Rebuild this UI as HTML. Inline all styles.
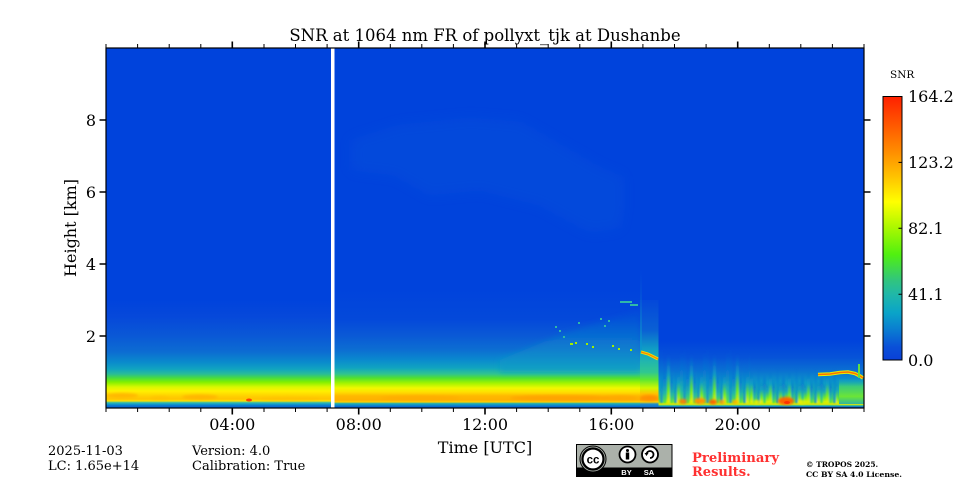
<!DOCTYPE html>
<html><head><meta charset="utf-8"><style>
html,body{margin:0;padding:0;background:#fff;}
svg{display:block;}
text{font-family:"DejaVu Serif","Liberation Serif",serif;fill:#000;}
</style></head><body>
<svg width="960" height="480" viewBox="0 0 960 480" xmlns="http://www.w3.org/2000/svg">
<defs>
<linearGradient id="cb" x1="0" y1="1" x2="0" y2="0">
<stop offset="0" stop-color="#0a40d8"/><stop offset="0.05" stop-color="#0a50d8"/><stop offset="0.12" stop-color="#0a80d0"/><stop offset="0.18" stop-color="#0aa4c8"/><stop offset="0.25" stop-color="#20b8a8"/><stop offset="0.3" stop-color="#30c480"/><stop offset="0.4" stop-color="#50f010"/><stop offset="0.5" stop-color="#a8f800"/><stop offset="0.6" stop-color="#ffff00"/><stop offset="0.7" stop-color="#ffc000"/><stop offset="0.8" stop-color="#ff8800"/><stop offset="0.9" stop-color="#ff5400"/><stop offset="1" stop-color="#ff2000"/>
</linearGradient>
<linearGradient id="gL" gradientUnits="userSpaceOnUse" x1="0" y1="300" x2="0" y2="408">
<stop offset="0" stop-color="#0043dc"/><stop offset="0.15" stop-color="#0648da"/><stop offset="0.33" stop-color="#0a58d6"/><stop offset="0.48" stop-color="#0c6cd2"/><stop offset="0.58" stop-color="#0a8ccc"/><stop offset="0.64" stop-color="#10a4c0"/><stop offset="0.685" stop-color="#28bc98"/><stop offset="0.722" stop-color="#48dc40"/><stop offset="0.76" stop-color="#80f000"/><stop offset="0.805" stop-color="#d8f800"/><stop offset="0.843" stop-color="#fff000"/><stop offset="0.89" stop-color="#ffd000"/><stop offset="0.917" stop-color="#ffc400"/><stop offset="0.935" stop-color="#ffe000"/><stop offset="0.949" stop-color="#40c0a0"/><stop offset="0.963" stop-color="#10a0c8"/><stop offset="0.981" stop-color="#0a70d0"/><stop offset="1" stop-color="#0a60d4"/>
</linearGradient>
<linearGradient id="gM" gradientUnits="userSpaceOnUse" x1="0" y1="290" x2="0" y2="408">
<stop offset="0" stop-color="#0043dc"/><stop offset="0.254" stop-color="#0449da"/><stop offset="0.381" stop-color="#0a58d6"/><stop offset="0.508" stop-color="#0c6ed2"/><stop offset="0.593" stop-color="#0a8ace"/><stop offset="0.661" stop-color="#10a4c0"/><stop offset="0.712" stop-color="#30c490"/><stop offset="0.746" stop-color="#50e030"/><stop offset="0.788" stop-color="#a0f400"/><stop offset="0.831" stop-color="#f0f800"/><stop offset="0.864" stop-color="#ffe000"/><stop offset="0.898" stop-color="#ffb800"/><stop offset="0.932" stop-color="#ffb000"/><stop offset="0.949" stop-color="#ffd000"/><stop offset="0.962" stop-color="#20b0b0"/><stop offset="0.975" stop-color="#1090c8"/><stop offset="0.987" stop-color="#0a6ad2"/><stop offset="1" stop-color="#0a60d4"/>
</linearGradient>
<linearGradient id="gC" gradientUnits="userSpaceOnUse" x1="0" y1="300" x2="0" y2="408">
<stop offset="0" stop-color="#0448da"/><stop offset="0.28" stop-color="#0a60d4"/><stop offset="0.46" stop-color="#10a0c4"/><stop offset="0.56" stop-color="#20b4b0"/><stop offset="0.67" stop-color="#30c890"/><stop offset="0.74" stop-color="#60e830"/><stop offset="0.815" stop-color="#d0f800"/><stop offset="0.87" stop-color="#ffc000"/><stop offset="0.925" stop-color="#ffa000"/><stop offset="0.944" stop-color="#ffd000"/><stop offset="0.963" stop-color="#2090c8"/><stop offset="1" stop-color="#0a60d4"/>
</linearGradient>
<linearGradient id="gR" gradientUnits="userSpaceOnUse" x1="0" y1="340" x2="0" y2="408">
<stop offset="0" stop-color="#0043dc"/><stop offset="0.25" stop-color="#0652d8"/><stop offset="0.45" stop-color="#0a70d2"/><stop offset="0.62" stop-color="#0c98c8"/><stop offset="0.76" stop-color="#20b4a8"/><stop offset="0.86" stop-color="#50d850"/><stop offset="0.915" stop-color="#a8f000"/><stop offset="0.945" stop-color="#e8e800"/><stop offset="0.965" stop-color="#30c090"/><stop offset="0.985" stop-color="#0a60d4"/><stop offset="1" stop-color="#0a50d8"/>
</linearGradient>
<linearGradient id="s1" x1="0" y1="0" x2="0" y2="1">
<stop offset="0" stop-color="#0a60d6" stop-opacity="0"/><stop offset="0.4" stop-color="#0a78d2" stop-opacity="0.7"/><stop offset="0.75" stop-color="#20b8a8" stop-opacity="0.9"/><stop offset="1" stop-color="#60e830"/>
</linearGradient>
<linearGradient id="s2" x1="0" y1="0" x2="0" y2="1">
<stop offset="0" stop-color="#0a60d6" stop-opacity="0"/><stop offset="0.4" stop-color="#10a0c4" stop-opacity="0.8"/><stop offset="0.75" stop-color="#70ec20"/><stop offset="1" stop-color="#f0f000"/>
</linearGradient>
<linearGradient id="s3" x1="0" y1="0" x2="0" y2="1">
<stop offset="0" stop-color="#0a60d6" stop-opacity="0"/><stop offset="1" stop-color="#0a98cc" stop-opacity="0.85"/>
</linearGradient>
<linearGradient id="up" gradientUnits="userSpaceOnUse" x1="0" y1="300" x2="0" y2="372">
<stop offset="0" stop-color="#0a5ad6" stop-opacity="0"/><stop offset="0.5" stop-color="#0a78d0" stop-opacity="0.6"/><stop offset="1" stop-color="#10a0c4" stop-opacity="0.8"/>
</linearGradient>
<linearGradient id="gp" x1="0" y1="0" x2="0" y2="1">
<stop offset="0" stop-color="#10a0c4" stop-opacity="0.3"/><stop offset="0.3" stop-color="#40d070"/><stop offset="0.7" stop-color="#70e830"/><stop offset="1" stop-color="#20b0b0"/>
</linearGradient>
<pattern id="pA" patternUnits="userSpaceOnUse" x="660" y="345" width="23" height="58">
<rect x="0" y="4" width="3" height="54" fill="url(#s3)"/>
<rect x="3" y="20" width="3" height="38" fill="url(#s1)"/>
<rect x="7" y="9" width="3" height="49" fill="url(#s2)"/>
<rect x="10" y="27" width="3" height="31" fill="url(#s1)"/>
<rect x="14" y="14" width="3" height="44" fill="url(#s3)"/>
<rect x="17" y="24" width="3" height="34" fill="url(#s2)"/>
<rect x="20" y="7" width="3" height="51" fill="url(#s1)"/>
</pattern>
<pattern id="pB" patternUnits="userSpaceOnUse" x="750" y="365" width="19" height="38">
<rect x="0" y="6" width="3" height="32" fill="url(#s2)"/>
<rect x="3" y="14" width="3" height="24" fill="url(#s1)"/>
<rect x="7" y="2" width="3" height="36" fill="url(#s3)"/>
<rect x="10" y="16" width="3" height="22" fill="url(#s2)"/>
<rect x="13" y="9" width="3" height="29" fill="url(#s1)"/>
<rect x="16" y="18" width="3" height="20" fill="url(#s2)"/>
</pattern>
<pattern id="pF" patternUnits="userSpaceOnUse" x="350" y="0" width="11" height="480">
<rect x="0" y="0" width="4" height="480" fill="#1a68d8"/>
<rect x="6" y="0" width="2" height="480" fill="#1460d8"/>
</pattern>
<filter id="bl" x="-20%" y="-20%" width="140%" height="140%"><feGaussianBlur stdDeviation="1.2"/></filter>
<filter id="bl2" x="-20%" y="-20%" width="140%" height="140%"><feGaussianBlur stdDeviation="3"/></filter>
<filter id="bl3" x="-10%" y="-20%" width="120%" height="140%"><feGaussianBlur stdDeviation="0.7"/></filter>
<filter id="bl4" x="-20%" y="-30%" width="140%" height="160%"><feGaussianBlur stdDeviation="6"/></filter>
<clipPath id="pc"><rect x="106" y="48" width="758" height="360"/></clipPath>
</defs>

<g clip-path="url(#pc)">
<rect x="106" y="48" width="758" height="360" fill="#0043dc"/>
<path d="M352,140 L400,125 L470,118 L520,122 L560,145 L600,168 L625,178 L620,228 L590,232 L540,205 L480,190 L430,195 L395,175 L352,170 Z" fill="url(#pF)" opacity="0.35" filter="url(#bl4)"/>

<rect x="106" y="300" width="225" height="108" fill="url(#gL)"/>
<g filter="url(#bl)">
<ellipse cx="122" cy="395.5" rx="16" ry="2.5" fill="#ffb000" opacity="0.8"/>
<ellipse cx="200" cy="397" rx="18" ry="2.5" fill="#ffb000" opacity="0.8"/>
<ellipse cx="160" cy="398" rx="10" ry="2" fill="#ffc000" opacity="0.7"/>
<ellipse cx="290" cy="399" rx="30" ry="1.8" fill="#ffc000" opacity="0.6"/>
</g>
<ellipse cx="249" cy="400" rx="3" ry="1.5" fill="#ff4000"/>
<rect x="331" y="48" width="3.5" height="360" fill="#ffffff"/>

<rect x="334.5" y="290" width="306" height="118" fill="url(#gM)"/>
<path d="M500,360 L560,335 L600,322 L640,312 L640,372 L500,372 Z" fill="url(#up)" filter="url(#bl2)"/>
<g filter="url(#bl)">
<ellipse cx="420" cy="398" rx="40" ry="2.5" fill="#ffa800" opacity="0.6"/>
<ellipse cx="560" cy="398" rx="50" ry="2.8" fill="#ff9c00" opacity="0.7"/>
<ellipse cx="620" cy="398" rx="18" ry="2.5" fill="#ffa000" opacity="0.6"/>
</g>
<path d="M555,326h2v2h-2zM559,330h2v2h-2zM563,336h2v2h-2zM578,322h2v2h-2zM600,318h2v2h-2zM604,325h2v2h-2zM608,320h2v2h-2zM620,301h12v2h-12zM630,304h8v2h-8z" fill="#30b8a8"/>
<path d="M570,343h3v2h-3zM575,342h2v2h-2zM586,343h2v2h-2zM592,346h2v2h-2zM612,345h2v2h-2zM618,348h2v2h-2zM630,349h2v2h-2z" fill="#a0f000"/>

<rect x="640" y="300" width="18.5" height="108" fill="url(#gC)"/>
<rect x="640" y="270" width="2" height="80" fill="url(#s3)"/>
<path d="M641,352 L648,354 L654,357 L658,359" stroke="#f0e000" stroke-width="3" fill="none"/>
<path d="M641,352 L648,354 L654,357 L658,359" stroke="#ff8000" stroke-width="1.2" fill="none"/>
<ellipse cx="649" cy="398" rx="9" ry="3" fill="#ff9000" filter="url(#bl)"/>

<rect x="658.5" y="340" width="205.5" height="68" fill="url(#gR)"/>
<rect x="660" y="345" width="90" height="58" fill="url(#pA)" filter="url(#bl3)"/>
<rect x="750" y="365" width="88" height="38" fill="url(#pB)" filter="url(#bl3)"/>
<rect x="839" y="379" width="25" height="25" fill="url(#gp)" opacity="0.9"/>
<g filter="url(#bl)">
<ellipse cx="683" cy="401.5" rx="4" ry="2.5" fill="#ff8000"/>
<ellipse cx="700" cy="401" rx="6" ry="3" fill="#ff9000"/>
<ellipse cx="713" cy="402" rx="4" ry="2.5" fill="#ff6000"/>
<ellipse cx="722" cy="402" rx="3" ry="2" fill="#ffa000"/>
<ellipse cx="735" cy="402" rx="3" ry="2" fill="#ffb000"/>
<ellipse cx="757" cy="402" rx="4" ry="1.8" fill="#f0f000"/>
<ellipse cx="786" cy="401" rx="8" ry="4" fill="#ff6000"/>
<ellipse cx="802" cy="402" rx="3" ry="2" fill="#f0f000"/>
</g>
<ellipse cx="787" cy="402.5" rx="3" ry="1.5" fill="#ff3000"/>
<path d="M818,374.5 L830,374 L840,372.5 L848,372 L855,373.5 L860,376 L863,378" stroke="#e8f000" stroke-width="3.5" fill="none"/>
<path d="M818,374.5 L830,374 L840,372.5 L848,372 L855,373.5 L860,376 L863,378" stroke="#ff7000" stroke-width="1.5" fill="none"/>
<rect x="858" y="364" width="2" height="14" fill="#60e040"/>
</g>

<rect x="106" y="48" width="758" height="360" fill="none" stroke="#000" stroke-width="1.2"/>
<path stroke="#000" stroke-width="1" d="M106,48v-4M137.6,48v-4M169.2,48v-4M200.8,48v-4M264,48v-4M295.5,48v-4M327.1,48v-4M390.3,48v-4M421.8,48v-4M453.4,48v-4M516.6,48v-4M548.2,48v-4M579.8,48v-4M642.9,48v-4M674.5,48v-4M706.1,48v-4M769.3,48v-4M800.8,48v-4M832.4,48v-4M864,48v-4M106,408v4M137.6,408v4M169.2,408v4M200.8,408v4M264,408v4M295.5,408v4M327.1,408v4M390.3,408v4M421.8,408v4M453.4,408v4M516.6,408v4M548.2,408v4M579.8,408v4M642.9,408v4M674.5,408v4M706.1,408v4M769.3,408v4M800.8,408v4M832.4,408v4M864,408v4"/>
<path stroke="#000" stroke-width="1.6" d="M232.3,48v-6.5M358.7,48v-6.5M485,48v-6.5M611.3,48v-6.5M737.7,48v-6.5M232.3,408v6.5M358.7,408v6.5M485,408v6.5M611.3,408v6.5M737.7,408v6.5M106,120h-6.5M106,192h-6.5M106,264h-6.5M106,336h-6.5M864,120h6.5M864,192h6.5M864,264h6.5M864,336h6.5"/>

<g font-size="16" text-anchor="middle">
<text x="232.3" y="430">04:00</text>
<text x="358.7" y="430">08:00</text>
<text x="485" y="430">12:00</text>
<text x="611.3" y="430">16:00</text>
<text x="737.7" y="430">20:00</text>
</g>
<g font-size="16" text-anchor="end">
<text x="96" y="126">8</text>
<text x="96" y="198">6</text>
<text x="96" y="270">4</text>
<text x="96" y="342">2</text>
</g>
<text x="485" y="41" font-size="16.5" text-anchor="middle">SNR at 1064 nm FR of pollyxt_tjk at Dushanbe</text>
<text x="485" y="453" font-size="16" text-anchor="middle">Time [UTC]</text>
<text transform="translate(76,228) rotate(-90)" font-size="16" text-anchor="middle">Height [km]</text>

<rect x="883" y="96.5" width="19" height="263.5" fill="url(#cb)" stroke="#000" stroke-width="1"/>
<path d="M898.5,162.4h3.5M898.5,228.3h3.5M898.5,294.2h3.5" stroke="#000" stroke-width="1"/>
<g font-size="16">
<text x="908" y="102">164.2</text>
<text x="908" y="168">123.2</text>
<text x="908" y="234">82.1</text>
<text x="908" y="300">41.1</text>
<text x="908" y="366">0.0</text>
</g>
<text x="890" y="78" font-size="10.5">SNR</text>

<g font-size="13">
<text x="48" y="455">2025-11-03</text>
<text x="48" y="470">LC: 1.65e+14</text>
<text x="192" y="455">Version: 4.0</text>
<text x="192" y="470">Calibration: True</text>
</g>

<rect x="576" y="444" width="96.5" height="33" fill="#abb1aa"/>
<rect x="576" y="467.5" width="96.5" height="9.5" fill="#000"/>
<rect x="576.5" y="444.5" width="95.5" height="32" fill="none" stroke="#000" stroke-width="1"/>
<circle cx="593" cy="459" r="13" fill="#abb1aa" stroke="#000" stroke-width="1"/>
<circle cx="593" cy="459" r="10.5" fill="#fff" stroke="#000" stroke-width="2.2"/>
<text x="593" y="463.5" font-weight="bold" font-size="11.5" text-anchor="middle" style="font-family:'Liberation Sans',sans-serif">cc</text>
<circle cx="627.5" cy="454.5" r="8" fill="#fff" stroke="#000" stroke-width="1.8"/>
<circle cx="627.5" cy="450.5" r="1.5" fill="#000"/>
<rect x="625.8" y="452.5" width="3.4" height="7" fill="#000"/>
<circle cx="650" cy="454.5" r="8" fill="#fff" stroke="#000" stroke-width="1.8"/>
<path d="M646.5,454.5 A3.5,3.5 0 1 1 650,458" fill="none" stroke="#000" stroke-width="1.8"/>
<path d="M644.5,453 L646.5,456 L648.5,453 Z" fill="#000"/>
<text x="626.5" y="475" font-size="7.5" text-anchor="middle" font-weight="bold" style="font-family:'Liberation Sans',sans-serif;fill:#fff">BY</text>
<text x="649" y="475" font-size="7.5" text-anchor="middle" font-weight="bold" style="font-family:'Liberation Sans',sans-serif;fill:#fff">SA</text>
<text x="692" y="462" font-size="13" font-weight="bold" style="fill:#ff3030" textLength="87" lengthAdjust="spacingAndGlyphs">Preliminary</text>
<text x="692" y="476" font-size="13" font-weight="bold" style="fill:#ff3030">Results.</text>
<text x="806" y="467" font-size="7.5" font-weight="bold">© TROPOS 2025.</text>
<text x="806" y="477" font-size="7.5" font-weight="bold" textLength="96" lengthAdjust="spacingAndGlyphs">CC BY SA 4.0 License.</text>
</svg>
</body></html>
